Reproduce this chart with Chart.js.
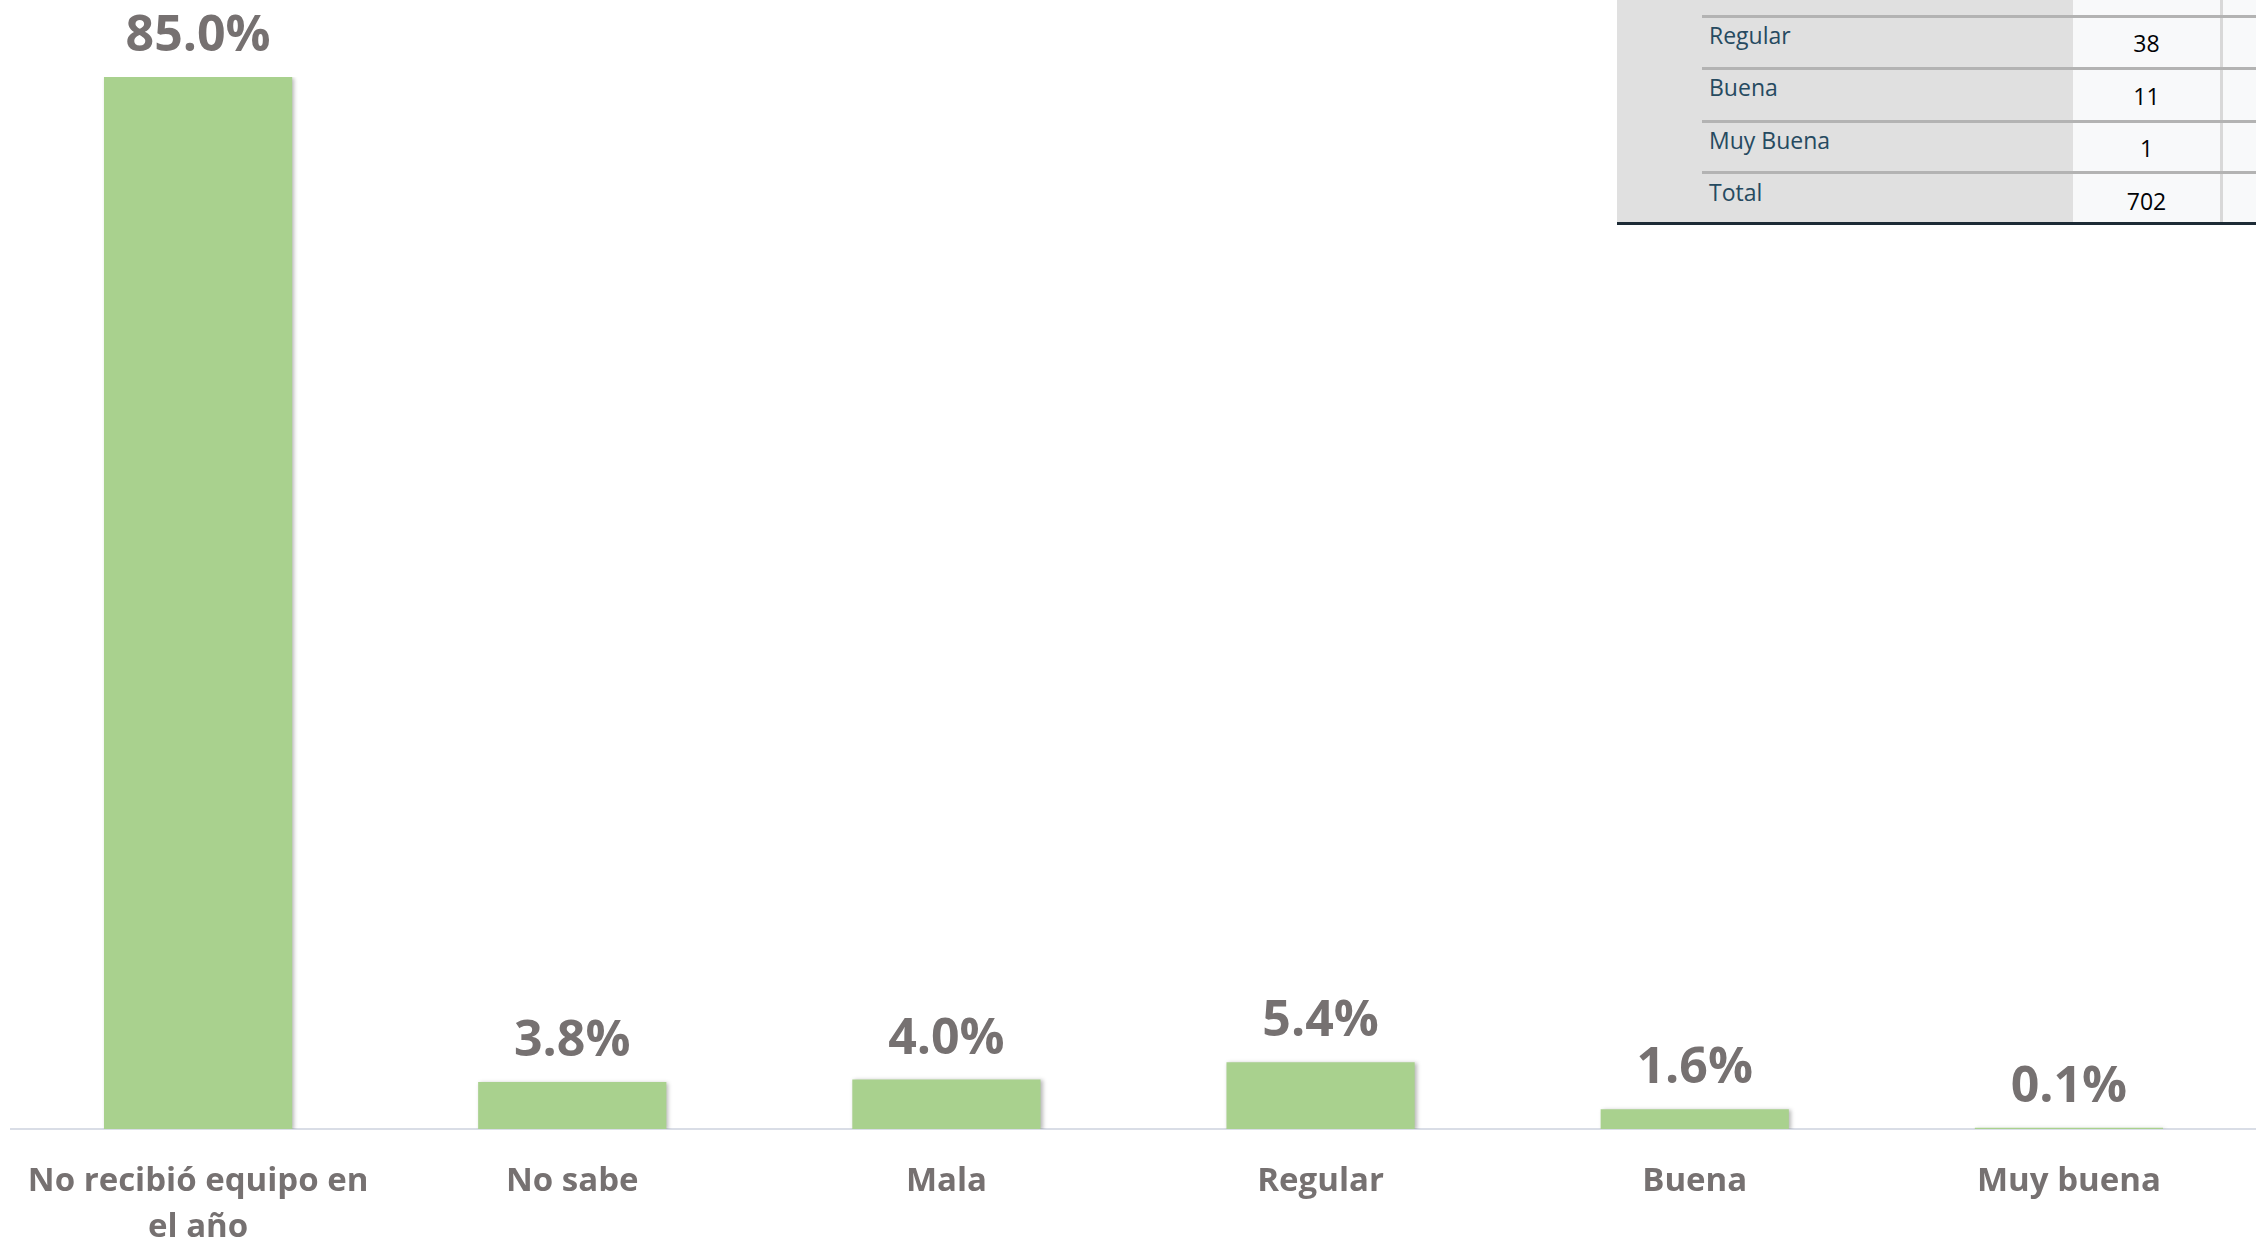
<!doctype html>
<html lang="es">
<head>
<meta charset="utf-8">
<title>Calidad del equipo recibido</title>
<script src="https://cdn.jsdelivr.net/npm/chart.js@4.4.1/dist/chart.umd.min.js"></script>
<style>
  * { box-sizing: border-box; }
  html, body { margin: 0; padding: 0; background: #ffffff; }
  body { width: 2256px; height: 1245px; position: relative; overflow: hidden; font-family: 'Open Sans', sans-serif; }
  .chart-wrap { position: absolute; left: 0; top: 0; width: 2256px; height: 1245px; }
  .spss { position: absolute; left: 1617px; top: 0; width: 639px; height: 226px; }
  .spss div { position: absolute; }
  .spss .bg-label { left: 0; top: 0; width: 456px; height: 224px; background: #e0e0e0; }
  .spss .bg-value { left: 456px; top: 0; width: 183px; height: 224px; background: #f8f9fa; }
  .spss .vline { left: 603px; top: 0; width: 3px; height: 224px; background: #d8d8d8; }
  .spss .hline { left: 85px; width: 554px; height: 3px; background: #b3b3b3; }
  .spss .bottom { left: 0; top: 222px; width: 639px; height: 3px; background: #1d2b36; }
  .spss .lbl { left: 92px; font-size: 23px; color: #264a60; line-height: 26px; transform: translateY(-50%); white-space: nowrap; }
  .spss .num { left: 456px; width: 147px; text-align: center; font-size: 23px; color: #010205; line-height: 26px; transform: translateY(-50%); }
</style>
</head>
<body>
<div class="chart-wrap"><canvas id="chart" width="2256" height="1245"></canvas></div>
<div class="spss" id="spss">
  <div class="bg-label"></div>
  <div class="bg-value"></div>
  <div class="vline"></div>
  <div class="bottom"></div>
</div>
<script>
// categorias del eje x y porcentajes de cada barra
const categories = [['No recibió equipo en', 'el año'], 'No sabe', 'Mala', 'Regular', 'Buena', 'Muy buena'];
const percentages = [85.0, 3.8, 4.0, 5.4, 1.6, 0.1];

// filas visibles de la tabla de frecuencias (recortada arriba a la derecha)
const tableLabels = ['Regular', 'Buena', 'Muy Buena', 'Total'];
const tableCounts = [38, 11, 1, 702];

const GREEN = '#a9d18e';
const GREY_TEXT = '#767171';

(function buildTable() {
  var box = document.getElementById('spss');
  var lineTops = [15, 67, 120, 171];
  tableLabels.forEach(function (label, i) {
    var line = document.createElement('div');
    line.className = 'hline';
    line.style.top = lineTops[i] + 'px';
    box.appendChild(line);

    var l = document.createElement('div');
    l.className = 'lbl';
    l.style.top = (35 + i * 52.3) + 'px';
    l.textContent = label;
    box.appendChild(l);

    var n = document.createElement('div');
    n.className = 'num';
    n.style.top = (43 + i * 52.5) + 'px';
    n.textContent = String(tableCounts[i]);
    box.appendChild(n);
  });
})();

const barShadow = {
  id: 'barShadow',
  beforeDatasetDraw(chart) {
    const ctx = chart.ctx;
    ctx.save();
    ctx.shadowColor = 'rgba(0,0,0,0.28)';
    ctx.shadowBlur = 4;
    ctx.shadowOffsetX = 2;
    ctx.shadowOffsetY = 1;
  },
  afterDatasetDraw(chart) {
    chart.ctx.restore();
  },
};

const valueLabels = {
  id: 'valueLabels',
  afterDatasetsDraw(chart) {
    const ctx = chart.ctx;
    const meta = chart.getDatasetMeta(0);
    ctx.save();
    ctx.font = "bold 50px 'Open Sans', sans-serif";
    ctx.fillStyle = GREY_TEXT;
    ctx.textAlign = 'center';
    ctx.textBaseline = 'middle';
    meta.data.forEach(function (bar, i) {
      ctx.fillText(percentages[i].toFixed(1) + '%', bar.x, bar.y - 40);
    });
    ctx.restore();
  },
};

new Chart(document.getElementById('chart').getContext('2d'), {
  type: 'bar',
  data: {
    labels: categories,
    datasets: [{
      data: percentages,
      backgroundColor: GREEN,
      borderWidth: 0,
      categoryPercentage: 1,
      barPercentage: 0.503,
    }],
  },
  options: {
    responsive: false,
    animation: false,
    devicePixelRatio: 1,
    layout: { padding: { left: 11, right: 0, top: 77, bottom: 0 } },
    plugins: { legend: { display: false }, tooltip: { enabled: false } },
    scales: {
      x: {
        grid: { display: false, drawTicks: false },
        border: { display: true, color: '#d9dde6', width: 2 },
        ticks: {
          color: GREY_TEXT,
          padding: 30,
          maxRotation: 0,
          autoSkip: false,
          font: { family: "'Open Sans', sans-serif", size: 33, weight: 'bold', lineHeight: 1.38 },
        },
        afterFit(scale) {
          scale.height = 116;
          scale.paddingLeft = 0;
          scale.paddingRight = 0;
        },
      },
      y: { display: false, min: 0, max: 85 },
    },
  },
  plugins: [barShadow, valueLabels],
});
</script>
</body>
</html>
